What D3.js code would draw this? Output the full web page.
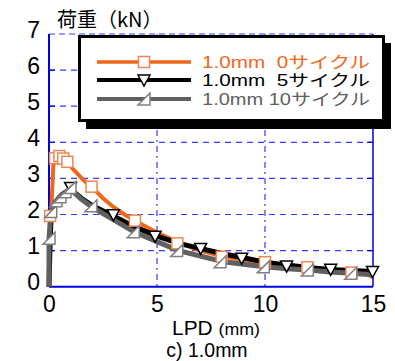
<!DOCTYPE html>
<html><head><meta charset="utf-8">
<script src="https://cdn.jsdelivr.net/npm/d3@7"></script>
<style>body{margin:0;background:#fff}svg{display:block}</style>
</head><body>
<svg id="c" width="395" height="361"></svg>
<script>
const xTicks = [0, 5, 10, 15];
const yTicks = [0, 1, 2, 3, 4, 5, 6, 7];
const seriesNames = ["1.0mm\u00a0\u00a00サイクル", "1.0mm\u00a0\u00a05サイクル", "1.0mm 10サイクル"];
const seriesColors = ["#f0661a", "#000000", "#606060"];
const markerStrokes = ["#f08650", "#000000", "#808080"];

const line0 = [[0,0],[0.05,1.0],[0.1,2.0],[0.15,2.7],[0.2,3.35],[0.3,3.55],[0.45,3.65],[0.65,3.55],[0.85,3.45],[1.2,3.2],[1.6,2.95],[2,2.75],[2.5,2.45],[3,2.2],[3.5,2.0],[4,1.82],[5,1.5],[6,1.22],[7,1.0],[8,0.84],[9,0.74],[10,0.66],[11,0.6],[12,0.53],[13,0.46],[14,0.39],[14.8,0.33],[15,0.25]];
const marks0 = [[0.05,1.96],[0.28,3.56],[0.48,3.62],[0.66,3.55],[0.85,3.46],[1.97,2.77],[3.98,1.83],[5.94,1.2],[8.0,0.83],[10.0,0.68],[11.96,0.54],[14.0,0.39]];

const line1 = [[0,0],[0.05,1.2],[0.1,2.0],[0.3,2.3],[0.6,2.55],[1.0,2.7],[1.5,2.45],[2,2.25],[3,1.95],[4,1.65],[5,1.4],[6,1.2],[7,1.06],[8,0.92],[9,0.8],[10,0.68],[11,0.6],[12,0.53],[13,0.48],[14,0.45],[15,0.42]];
const marks1 = [[1.0,2.75],[2.98,1.99],[4.91,1.4],[7.02,1.06],[8.92,0.79],[11.0,0.57],[13.04,0.48],[14.98,0.42]];

const line2 = [[0,0],[0,1.3],[0.08,2.05],[0.3,2.35],[0.5,2.5],[0.75,2.62],[1.0,2.7],[1.5,2.42],[2,2.2],[3,1.85],[4,1.5],[5,1.25],[6,1.0],[7,0.85],[8,0.7],[9,0.62],[10,0.55],[11,0.5],[12,0.46],[13,0.41],[14,0.37],[15,0.33]];
const marks2 = [[0,1.34],[0.08,2.08],[0.32,2.38],[0.51,2.49],[0.74,2.63],[0.97,2.75],[1.94,2.24],[3.9,1.52],[5.91,1.0],[7.92,0.69],[9.92,0.55],[11.96,0.46],[13.97,0.37]];

const svg = d3.select("#c");
const L = 49, R = 373, T = 34, B = 286.7;
const x = d3.scaleLinear().domain([0, 15]).range([L, R]);
const y = d3.scaleLinear().domain([0, 7]).range([B, T]);
const blue = "#0000dd";
const latin = "Liberation Sans, Arial, sans-serif";
const jp = "'Noto Sans CJK JP', sans-serif";
const mixed = "'Liberation Sans', 'Noto Sans CJK JP', sans-serif";

// grid
const g = svg.append("g");
g.selectAll(".hg").data(yTicks.filter(d => d > 0 && d < 7)).join("line")
  .attr("x1", L).attr("x2", R).attr("y1", d => y(d)).attr("y2", d => y(d))
  .attr("stroke", "#3a3aee").attr("stroke-width", 1.2).attr("stroke-dasharray", "6,5");
g.selectAll(".vg").data(xTicks.filter(d => d > 0 && d < 15)).join("line")
  .attr("x1", d => x(d)).attr("x2", d => x(d)).attr("y1", T).attr("y2", B)
  .attr("stroke", "#3a3aee").attr("stroke-width", 1.2).attr("stroke-dasharray", "6,4,2,4");
g.selectAll(".lt").data(yTicks.filter(d => d > 0 && d < 7)).join("line")
  .attr("x1", L).attr("x2", L + 6).attr("y1", d => y(d)).attr("y2", d => y(d))
  .attr("stroke", blue).attr("stroke-width", 1.2);
g.selectAll(".rt").data(yTicks.filter(d => d > 0 && d < 7)).join("line")
  .attr("x1", R - 6).attr("x2", R).attr("y1", d => y(d)).attr("y2", d => y(d))
  .attr("stroke", blue).attr("stroke-width", 1.2);
g.append("line").attr("x1", L).attr("x2", R).attr("y1", T).attr("y2", T)
  .attr("stroke", "#3a3aee").attr("stroke-width", 1.2).attr("stroke-dasharray", "6,4");
g.append("line").attr("x1", R).attr("x2", R).attr("y1", T).attr("y2", B).attr("stroke", blue).attr("stroke-width", 1.5);
g.append("line").attr("x1", L).attr("x2", R).attr("y1", B).attr("y2", B).attr("stroke", blue).attr("stroke-width", 2);
g.append("line").attr("x1", L).attr("x2", L).attr("y1", T).attr("y2", B).attr("stroke", blue).attr("stroke-width", 2);

// axes labels via d3 axes
const ax = svg.append("g").attr("transform", `translate(0,${B})`)
  .call(d3.axisBottom(x).tickValues(xTicks).tickSize(0).tickPadding(0).tickFormat(d3.format("d")));
ax.select(".domain").remove();
ax.selectAll("text").attr("font-family", latin).attr("font-size", 23).attr("fill", "#000")
  .attr("dy", null).attr("y", 25);
const ay = svg.append("g").attr("transform", `translate(40,0)`)
  .call(d3.axisLeft(y).tickValues(yTicks).tickSize(0).tickPadding(0).tickFormat(d3.format("d")));
ay.select(".domain").remove();
ay.selectAll("text").attr("font-family", latin).attr("font-size", 23).attr("fill", "#000")
  .attr("dy", null).attr("y", 3);

// lines
const lineGen = d3.line().x(d => x(d[0])).y(d => y(d[1]));
const lines = [line0, line1, line2];
const marks = [marks0, marks1, marks2];
const widths = [4, 5, 5];
lines.forEach((ln, i) => {
  svg.append("path").datum(ln).attr("d", lineGen).attr("fill", "none")
    .attr("stroke", seriesColors[i]).attr("stroke-width", widths[i]).attr("stroke-linejoin", "round");
});
function marker(sel, i) {
  if (i === 0) {
    sel.append("rect").attr("x", -5.5).attr("y", -5.5).attr("width", 11).attr("height", 11)
      .attr("fill", "#fff").attr("stroke", markerStrokes[0]).attr("stroke-width", 1.5);
  } else if (i === 1) {
    sel.append("path").attr("d", "M-6,-5L6,-5L0,6Z").attr("fill", "#fff")
      .attr("stroke", "#000").attr("stroke-width", 1.5);
  } else {
    sel.append("path").attr("d", "M-6,6L6,6L6,-6Z").attr("fill", "#fff")
      .attr("stroke", markerStrokes[2]).attr("stroke-width", 1.5);
  }
}
marks.forEach((ms, i) => {
  ms.forEach(p => {
    const s = svg.append("g").attr("transform", `translate(${x(p[0])},${y(p[1])})`);
    marker(s, i);
  });
});

// legend
svg.append("rect").attr("x", 86).attr("y", 43).attr("width", 305).attr("height", 86).attr("fill", "#000");
svg.append("rect").attr("x", 79.5).attr("y", 36.5).attr("width", 304).attr("height", 84)
  .attr("fill", "#fff").attr("stroke", "#000").attr("stroke-width", 3);
const ly = [62, 80, 99];
seriesNames.forEach((nm, i) => {
  svg.append("line").attr("x1", 97).attr("x2", 191).attr("y1", ly[i]).attr("y2", ly[i])
    .attr("stroke", seriesColors[i]).attr("stroke-width", i === 0 ? 3.5 : 4);
  const s = svg.append("g").attr("transform", `translate(144,${ly[i]})`);
  marker(s, i);
  svg.append("text").attr("x", 202).attr("y", ly[i] + 6).text(nm)
    .attr("font-family", mixed).attr("font-size", 16)
    .attr("textLength", 168).attr("lengthAdjust", "spacingAndGlyphs")
    .attr("fill", seriesColors[i]);
});

// titles
svg.append("text").attr("x", 57).attr("y", 27).text("荷重（kN）")
  .attr("font-family", jp).attr("font-size", 20).attr("fill", "#000");
const xl = svg.append("text").attr("x", 172).attr("y", 334.8)
  .attr("font-family", latin).attr("font-size", 20).attr("fill", "#000")
  .attr("textLength", 88).attr("lengthAdjust", "spacingAndGlyphs");
xl.append("tspan").text("LPD ");
xl.append("tspan").attr("font-size", 17).text("(mm)");
svg.append("text").attr("x", 207).attr("y", 356.8).attr("text-anchor", "middle").text("c) 1.0mm")
  .attr("font-family", latin).attr("font-size", 19.5).attr("fill", "#000");
</script>
</body></html>
